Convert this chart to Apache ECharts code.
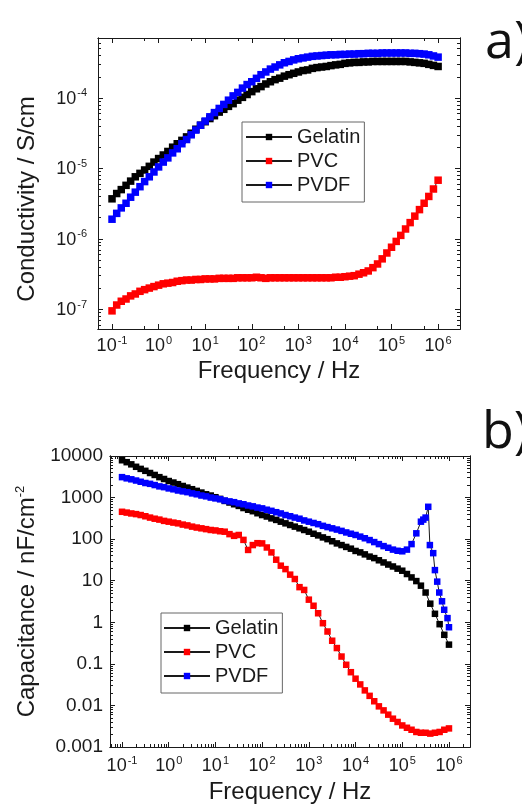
<!DOCTYPE html>
<html lang="en">
<head>
<meta charset="UTF-8" />
<title>Conductivity and capacitance vs frequency</title>
<script src="https://cdn.jsdelivr.net/npm/echarts@6.0.0/dist/echarts.min.js"></script>
<style>
    html, body { margin: 0; padding: 0; width: 100%; height: 100%; overflow: hidden; background: #fff; }
    #main { width: 522px; height: 807px; }
</style>
</head>
<body>
<div id="main"></div>
<script>
    // frequency grid, 10 points per decade (Hz)
    const freq = [
        0.1, 0.126, 0.158, 0.2, 0.251, 0.316, 0.398, 0.501, 0.631, 0.794,
        1, 1.26, 1.58, 2, 2.51, 3.16, 3.98, 5.01, 6.31, 7.94,
        10, 12.6, 15.8, 20, 25.1, 31.6, 39.8, 50.1, 63.1, 79.4,
        100, 126, 158, 200, 251, 316, 398, 501, 631, 794,
        1000, 1260, 1580, 2000, 2510, 3160, 3980, 5010, 6310, 7940,
        1e4, 1.26e4, 1.58e4, 2e4, 2.51e4, 3.16e4, 3.98e4, 5.01e4, 6.31e4, 7.94e4,
        1e5, 1.26e5, 1.58e5, 2e5, 2.51e5, 3.16e5, 3.98e5, 5.01e5, 6.31e5, 7.94e5,
        1e6,
    ]

    // a) conductivity, S/cm
    const gelatinCond = [
        3.7e-6, 4.4e-6, 5.0e-6, 5.75e-6, 6.6e-6, 7.6e-6, 8.5e-6, 9.5e-6, 1.07e-5, 1.23e-5,
        1.38e-5, 1.55e-5, 1.74e-5, 2.0e-5, 2.24e-5, 2.5e-5, 2.8e-5, 3.16e-5, 3.6e-5, 4.1e-5,
        4.6e-5, 5.1e-5, 5.6e-5, 6.3e-5, 6.9e-5, 7.6e-5, 8.3e-5, 9.3e-5, 1.02e-4, 1.12e-4,
        1.23e-4, 1.35e-4, 1.45e-4, 1.58e-4, 1.7e-4, 1.82e-4, 1.91e-4, 2.04e-4, 2.14e-4, 2.24e-4,
        2.34e-4, 2.45e-4, 2.5e-4, 2.63e-4, 2.7e-4, 2.75e-4, 2.8e-4, 2.88e-4, 2.95e-4, 3.0e-4,
        3.1e-4, 3.15e-4, 3.2e-4, 3.2e-4, 3.25e-4, 3.25e-4, 3.3e-4, 3.3e-4, 3.3e-4, 3.3e-4,
        3.3e-4, 3.3e-4, 3.3e-4, 3.3e-4, 3.25e-4, 3.2e-4, 3.15e-4, 3.1e-4, 3.0e-4, 2.9e-4,
        2.8e-4,
    ]
    const pvcCond = [
        9.5e-8, 1.15e-7, 1.3e-7, 1.4e-7, 1.55e-7, 1.65e-7, 1.8e-7, 1.9e-7, 2.0e-7, 2.1e-7,
        2.2e-7, 2.3e-7, 2.35e-7, 2.4e-7, 2.5e-7, 2.55e-7, 2.6e-7, 2.6e-7, 2.65e-7, 2.65e-7,
        2.7e-7, 2.7e-7, 2.7e-7, 2.75e-7, 2.75e-7, 2.75e-7, 2.75e-7, 2.8e-7, 2.8e-7, 2.8e-7,
        2.8e-7, 2.85e-7, 2.8e-7, 2.75e-7, 2.8e-7, 2.8e-7, 2.8e-7, 2.8e-7, 2.8e-7, 2.8e-7,
        2.8e-7, 2.8e-7, 2.8e-7, 2.8e-7, 2.8e-7, 2.8e-7, 2.8e-7, 2.8e-7, 2.85e-7, 2.85e-7,
        2.9e-7, 2.95e-7, 3.0e-7, 3.15e-7, 3.3e-7, 3.5e-7, 3.9e-7, 4.4e-7, 5.2e-7, 6.3e-7,
        7.6e-7, 9.2e-7, 1.12e-6, 1.38e-6, 1.7e-6, 2.1e-6, 2.6e-6, 3.2e-6, 4.0e-6, 5.1e-6,
        6.8e-6,
    ]
    const pvdfCond = [
        1.9e-6, 2.3e-6, 2.75e-6, 3.2e-6, 3.9e-6, 4.6e-6, 5.5e-6, 6.5e-6, 7.6e-6, 8.9e-6,
        1.05e-5, 1.23e-5, 1.41e-5, 1.66e-5, 1.9e-5, 2.24e-5, 2.57e-5, 3.0e-5, 3.5e-5, 4.1e-5,
        4.7e-5, 5.4e-5, 6.2e-5, 7.1e-5, 8.1e-5, 9.3e-5, 1.07e-4, 1.2e-4, 1.38e-4, 1.55e-4,
        1.7e-4, 1.9e-4, 2.14e-4, 2.34e-4, 2.57e-4, 2.75e-4, 2.95e-4, 3.16e-4, 3.3e-4, 3.47e-4,
        3.6e-4, 3.7e-4, 3.8e-4, 3.9e-4, 3.95e-4, 4.0e-4, 4.05e-4, 4.1e-4, 4.1e-4, 4.15e-4,
        4.15e-4, 4.2e-4, 4.2e-4, 4.25e-4, 4.25e-4, 4.3e-4, 4.3e-4, 4.3e-4, 4.35e-4, 4.35e-4,
        4.35e-4, 4.35e-4, 4.35e-4, 4.35e-4, 4.3e-4, 4.3e-4, 4.25e-4, 4.2e-4, 4.1e-4, 3.95e-4,
        3.8e-4,
    ]

    // b) capacitance, nF/cm^2
    const gelatinCap = [
        7900, 7100, 6300, 5500, 4900, 4400, 3900, 3500, 3100, 2800,
        2500, 2300, 2100, 1900, 1740, 1590, 1450, 1320, 1200, 1120,
        1020, 930, 830, 760, 690, 630, 560, 510, 470, 420,
        380, 350, 316, 290, 263, 240, 219, 200, 182, 166,
        151, 135, 123, 110, 100, 89, 79, 72, 65, 59,
        52, 48, 43, 38, 35, 31, 27.5, 24.5, 22, 19.5,
        17.4, 14.5, 12, 9.8, 7.6, 5.2, 2.8, 1.6, 0.9, 0.5,
        0.29,
    ]
    const pvcCap = [
        455, 435, 415, 400, 380, 355, 330, 310, 295, 275,
        263, 250, 240, 224, 214, 200, 190, 182, 174, 166,
        162, 155, 151, 132, 120, 126, 96, 55, 72, 80,
        79, 63, 48, 32, 23, 19, 14, 11, 7, 6,
        3.5, 2.5, 1.65, 0.95, 0.6, 0.36, 0.24, 0.15, 0.095, 0.063,
        0.044, 0.032, 0.023, 0.017, 0.0126, 0.0095, 0.0076, 0.006, 0.0048, 0.004,
        0.0033, 0.0029, 0.0026, 0.0023, 0.0022, 0.0022, 0.0021, 0.0022, 0.0023, 0.0026,
        0.0028,
    ]
    // PVDF up to 1e5 Hz on the common grid, then its own denser points around the resonance
    const pvdfCap = [
        3100, 2900, 2750, 2570, 2400, 2240, 2140, 2000, 1860, 1780,
        1660, 1580, 1480, 1410, 1350, 1260, 1200, 1120, 1070, 1000,
        955, 910, 850, 810, 775, 725, 690, 645, 615, 575,
        550, 510, 480, 445, 415, 380, 355, 330, 310, 282,
        263, 245, 229, 209, 195, 182, 170, 158, 145, 135,
        126, 115, 105, 95, 85, 76, 68, 62, 56, 52.5,
        51,
    ]
    const pvdfTailFreq = [1.26e5, 1.58e5, 2e5, 2.51e5, 2.82e5, 3.16e5, 3.6e5, 3.9e5, 4.6e5, 5e5, 5.6e5, 6.2e5, 7.1e5, 7.9e5, 9.3e5, 1e6]
    const pvdfTailCap = [56, 76, 138, 263, 295, 330, 600, 72, 46, 18, 9.5, 5.2, 3.2, 2.0, 1.26, 0.76]

    const names = ["Gelatin", "PVC", "PVDF"]
    const colors = ["#000000", "#ff0000", "#0000ff"]

    // tick values
    const freqDecades = [0.1, 1, 10, 100, 1e3, 1e4, 1e5, 1e6]
    const condDecades = [1e-7, 1e-6, 1e-5, 1e-4]
    const capDecades = [0.001, 0.01, 0.1, 1, 10, 100, 1000, 10000]
    const minorMults = [2, 3, 4, 5, 6, 7, 8, 9]

    function minorValues(decades, mults) {
        const out = []
        decades.forEach((d) => mults.forEach((m) => out.push(+(d * m).toPrecision(3))))
        return out
    }

    const FONT = '"Liberation Sans", Arial, Helvetica, sans-serif'
    const INK = "#1a1a1a"

    const supRich = (size) => ({
        b: { fontSize: size, fontFamily: FONT, color: INK, lineHeight: size + 2, verticalAlign: "bottom" },
        s: { fontSize: 11, fontFamily: FONT, color: INK, lineHeight: size + 2, verticalAlign: "top", padding: [0, 0, 0, 1] },
    })

    function powLabel(v) {
        const e = Math.round(Math.log10(v))
        return "{b|10}{s|" + e + "}"
    }

    function plainLabel(v) {
        return v >= 1 ? String(Math.round(v)) : String(+v.toPrecision(1))
    }

    // one log axis of the plot frame; labelled ones get extra options
    function frameAxis(gridIndex, position, min, max, ticks, tickLen, extra) {
        const axis = {
            type: "log",
            logBase: 10,
            gridIndex: gridIndex,
            position: position,
            min: min,
            max: max,
            axisLine: { show: true, onZero: false, lineStyle: { color: INK, width: 1 } },
            axisTick: { show: true, inside: true, length: tickLen, customValues: ticks, lineStyle: { color: INK, width: 1 } },
            axisLabel: { show: false, customValues: ticks },
            splitLine: { show: false },
            minorTick: { show: false },
            axisPointer: { show: false },
        }
        return Object.assign(axis, extra || {})
    }

    // a) ranges
    const fMinA = 0.05, fMaxA = 2.95e6, condMin = 5.25e-8, condMax = 7.1e-4
    // b) ranges
    const fMinB = 0.0553, fMaxB = 2.82e6, capMin = 0.001, capMax = 10000

    const xAxes = [
        frameAxis(0, "bottom", fMinA, fMaxA, freqDecades, 5, {
            axisLabel: { show: true, customValues: freqDecades, formatter: powLabel, rich: supRich(18), margin: 6 },
            name: "Frequency / Hz",
            nameLocation: "middle",
            nameGap: 30,
            nameTextStyle: { fontSize: 24, fontFamily: FONT, color: INK },
        }),
        frameAxis(0, "top", fMinA, fMaxA, freqDecades, 5),
        frameAxis(0, "bottom", fMinA, fMaxA, minorValues(freqDecades, [5]), 3),
        frameAxis(0, "top", fMinA, fMaxA, minorValues(freqDecades, [5]), 3),
        frameAxis(1, "bottom", fMinB, fMaxB, freqDecades, 5, {
            axisLabel: { show: true, customValues: freqDecades, formatter: powLabel, rich: supRich(18), margin: 8 },
            name: "Frequency / Hz",
            nameLocation: "middle",
            nameGap: 33,
            nameTextStyle: { fontSize: 24, fontFamily: FONT, color: INK },
        }),
        frameAxis(1, "top", fMinB, fMaxB, freqDecades, 5),
        frameAxis(1, "bottom", fMinB, fMaxB, minorValues([0.01].concat(freqDecades), minorMults), 3),
        frameAxis(1, "top", fMinB, fMaxB, minorValues([0.01].concat(freqDecades), minorMults), 3),
    ]

    const yAxes = [
        frameAxis(0, "left", condMin, condMax, condDecades, 5, {
            axisLabel: { show: true, customValues: condDecades, formatter: powLabel, rich: supRich(18), margin: 11 },
            name: "Conductivity / S/cm",
            nameLocation: "middle",
            nameRotate: 90,
            nameGap: 59,
            nameTextStyle: { fontSize: 24, fontFamily: FONT, color: INK, padding: [0, 31, 0, 0] },
        }),
        frameAxis(0, "right", condMin, condMax, condDecades, 5),
        frameAxis(0, "left", condMin, condMax, minorValues([1e-8].concat(condDecades), minorMults), 3),
        frameAxis(0, "right", condMin, condMax, minorValues([1e-8].concat(condDecades), minorMults), 3),
        frameAxis(1, "left", capMin, capMax, capDecades, 5, {
            axisLabel: { show: true, customValues: capDecades, formatter: plainLabel, fontSize: 19, fontFamily: FONT, color: INK, margin: 7 },
            name: "Capacitance / nF/cm{s|-2}",
            nameLocation: "middle",
            nameRotate: 90,
            nameGap: 69,
            nameTextStyle: {
                fontSize: 24,
                fontFamily: FONT,
                color: INK,
                rich: { s: { fontSize: 13, fontFamily: FONT, color: INK, verticalAlign: "top", lineHeight: 26 } },
            },
        }),
        frameAxis(1, "right", capMin, capMax, capDecades, 5),
        frameAxis(1, "left", capMin, capMax, minorValues(capDecades, minorMults), 3),
        frameAxis(1, "right", capMin, capMax, minorValues(capDecades, minorMults), 3),
    ]

    function dotSeries(name, axisIndex, xs, ys, color, size) {
        return {
            type: "line",
            name: name,
            xAxisIndex: axisIndex,
            yAxisIndex: axisIndex,
            data: xs.map((f, i) => [f, ys[i]]),
            symbol: "rect",
            symbolSize: size,
            showAllSymbol: true,
            itemStyle: { color: color },
            lineStyle: { color: INK, width: 1 },
            emphasis: { disabled: true },
            animation: false,
        }
    }

    const pvdfCapFreq = freq.slice(0, pvdfCap.length).concat(pvdfTailFreq)
    const pvdfCapAll = pvdfCap.concat(pvdfTailCap)

    const series = [
        dotSeries(names[0], 0, freq, gelatinCond, colors[0], 7.5),
        dotSeries(names[1], 0, freq, pvcCond, colors[1], 7.5),
        dotSeries(names[2], 0, freq, pvdfCond, colors[2], 7.5),
        dotSeries(names[0], 4, freq, gelatinCap, colors[0], 6.5),
        dotSeries(names[1], 4, freq, pvcCap, colors[1], 6.5),
        dotSeries(names[2], 4, pvdfCapFreq, pvdfCapAll, colors[2], 6.5),
    ]

    const legendBase = {
        data: names,
        orient: "vertical",
        itemGap: 4,
        itemWidth: 46,
        itemHeight: 8,
        borderColor: "#666",
        borderWidth: 1,
        borderRadius: 0,
        backgroundColor: "#fff",
        selectedMode: false,
        textStyle: { fontSize: 20, fontFamily: FONT, color: INK },
    }

    const chart = echarts.init(document.getElementById("main"), null, { renderer: "canvas" })
    chart.setOption({
        animation: false,
        backgroundColor: "#fff",
        grid: [
            { left: 98, top: 38, width: 362, height: 291 },
            { left: 110, top: 456, width: 360, height: 291 },
        ],
        xAxis: xAxes,
        yAxis: yAxes,
        legend: [
            Object.assign({}, legendBase, { left: 242, top: 122, padding: [5, 4, 7, 3] }),
            Object.assign({}, legendBase, { left: 161, top: 613, padding: [5, 4, 7, 2] }),
        ],
        graphic: [
            { type: "text", left: 485, top: 17, style: { text: "a)", font: '52px "Open Sans"', fill: "#111" } },
            { type: "text", left: 482, top: 407, style: { text: "b)", font: '52px "Open Sans"', fill: "#111" } },
        ],
        series: series,
    })
</script>
</body>
</html>
